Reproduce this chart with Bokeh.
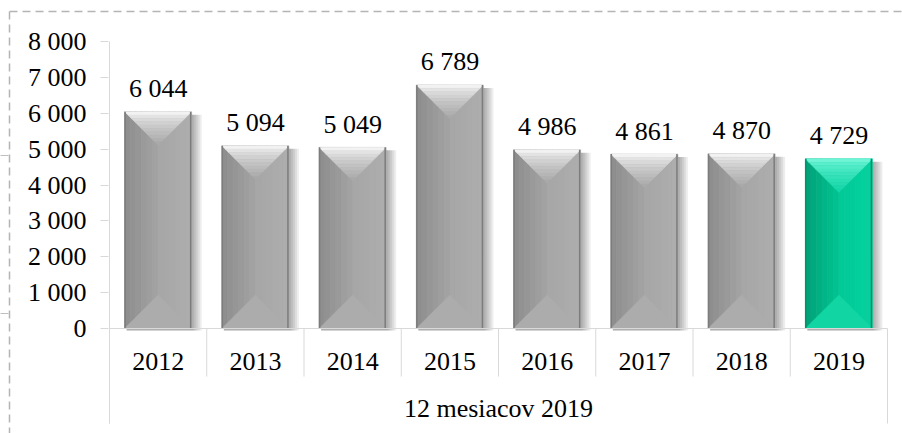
from bokeh.plotting import figure
from bokeh.models import Range1d, FixedTicker, CustomJSTickFormatter, ColumnDataSource
from bokeh.core.properties import value
from bokeh.embed import file_html
from bokeh.resources import INLINE

# ---- data ----
years = ["2012", "2013", "2014", "2015", "2016", "2017", "2018", "2019"]
counts = [6044, 5094, 5049, 6789, 4986, 4861, 4870, 4729]
highlight = [False, False, False, False, False, False, False, True]
group_label = "12 mesiacov 2019"
y_ticks = [0, 1000, 2000, 3000, 4000, 5000, 6000, 7000, 8000]

# ---- layout constants ----
W, H = 902, 433
FRAME_L, FRAME_T = 108, 20
PX_X = 97.25          # pixels per category
PX_Y = 0.035875       # pixels per unit
ZERO_FROM_TOP = 308   # frame px from top to value 0
x_start = -1.0 / PX_X
x_end = x_start + (W - FRAME_L) / PX_X
y_end = ZERO_FROM_TOP / PX_Y
y_start = y_end - (H - FRAME_T) / PX_Y

def dxp(px):
    return px / PX_X

def dyp(px):
    return px / PX_Y

FONT = "Liberation Serif"
FS = "26px"

p = figure(width=W, height=H, output_backend="svg", toolbar_location=None,
           x_range=Range1d(x_start, x_end), y_range=Range1d(y_start, y_end),
           x_axis_location=None, min_border_left=FRAME_L, min_border_top=FRAME_T,
           min_border_right=0, min_border_bottom=0)
p.outline_line_color = None
p.background_fill_color = "white"
p.border_fill_color = "white"
p.grid.visible = False

ax = p.yaxis[0]
ax.ticker = FixedTicker(ticks=y_ticks)
ax.bounds = (0, 8000)
ax.formatter = CustomJSTickFormatter(code="return tick.toString().replace(/\\B(?=(\\d{3})+(?!\\d))/g, ' ');")
ax.axis_line_color = None
ax.major_tick_line_color = "#d9d9d9"
ax.major_tick_out = 8
ax.major_tick_in = 0
ax.minor_tick_line_color = None
ax.major_label_standoff = 14
ax.major_label_text_font = FONT
ax.major_label_text_font_size = FS
ax.major_label_text_color = "#000000"

def hexmix(a, b, t):
    a = [int(a[i:i + 2], 16) for i in (1, 3, 5)]
    b = [int(b[i:i + 2], 16) for i in (1, 3, 5)]
    return "#" + "".join("%02x" % round(a[k] + (b[k] - a[k]) * t) for k in range(3))

GRAY = dict(l0="#8e8e8e", l1="#a2a2a2", r0="#a7a7a7", r1="#adadad",
            t0="#f2f2f2", t1="#aaaaaa", bot="#acacac", edge="#7c7c7c")
GREEN = dict(l0="#00a47a", l1="#00c18f", r0="#00cb98", r1="#04d19d",
             t0="#6ff5d6", t1="#14d6a8", bot="#12d5a4", edge="#00916a")

hw = 0.345
depth = hw * PX_X / PX_Y  # 45 degree bevel, in y units

# shadows
sh = dict(left=[], right=[], top=[], bottom=[])
for i, v in enumerate(counts):
    c = i + 0.5
    for k in (2, 4, 6, 8, 10):
        sh["left"].append(c - hw + dxp(2))
        sh["right"].append(c + hw + dxp(k))
        sh["top"].append(v - dyp(3))
        sh["bottom"].append(-dyp(2))
p.quad(left="left", right="right", top="top", bottom="bottom", source=ColumnDataSource(sh),
       fill_color="#000000", fill_alpha=0.07, line_color=None)

xs, ys, cols = [], [], []
n_strip = 6
n_band = 10
for i, v in enumerate(counts):
    c = i + 0.5
    pal = GREEN if highlight[i] else GRAY
    for k in range(n_strip):
        a = c - hw + hw * k / n_strip
        b = c - hw + hw * (k + 1) / n_strip
        xs.append([a, b, b, a]); ys.append([0, 0, v, v])
        cols.append(hexmix(pal["l0"], pal["l1"], k / (n_strip - 1)))
    for k in range(n_strip):
        a = c + hw * k / n_strip
        b = c + hw * (k + 1) / n_strip
        xs.append([a, b, b, a]); ys.append([0, 0, v, v])
        cols.append(hexmix(pal["r0"], pal["r1"], k / (n_strip - 1)))
    xs.append([c - hw, c + hw, c]); ys.append([0, 0, depth])
    cols.append(pal["bot"])
    for k in range(n_band):
        ya = v - depth * k / n_band
        yb = v - depth * (k + 1) / n_band
        wa = hw * (1 - k / n_band)
        wb = hw * (1 - (k + 1) / n_band)
        xs.append([c - wa, c + wa, c + wb, c - wb]); ys.append([ya, ya, yb, yb])
        cols.append(hexmix(pal["t0"], pal["t1"], (k / (n_band - 1)) ** 0.7))
p.patches(xs="xs", ys="ys", source=ColumnDataSource(dict(xs=xs, ys=ys, color=cols)),
          fill_color="color", line_color="color", line_width=0.5)

# bar edges
ex0, ey0, ex1, ey1, ec = [], [], [], [], []
for i, v in enumerate(counts):
    c = i + 0.5
    pal = GREEN if highlight[i] else GRAY
    for xx in (c - hw + dxp(0.5), c + hw - dxp(1)):
        ex0.append(xx); ex1.append(xx); ey0.append(0); ey1.append(v); ec.append(pal["edge"])
p.segment(x0="x0", y0="y0", x1="x1", y1="y1", color="c",
          source=ColumnDataSource(dict(x0=ex0, y0=ey0, x1=ex1, y1=ey1, c=ec)), line_width=1.5)

# axis lines and category separators
n = len(years)
AX = "#d9d9d9"
p.segment(x0=[0, 0], y0=[0, -dyp(95)], x1=[n, 0], y1=[0, 8000], color=AX, line_width=1)
sep_x = list(range(0, n + 1))
sep_y1 = [-dyp(95) if k in (0, n) else -dyp(48) for k in sep_x]
p.segment(x0=sep_x, y0=[0] * len(sep_x), x1=sep_x, y1=sep_y1, color=AX, line_width=1)

# value labels
p.text(x=[i + 0.5 for i in range(n)], y=counts,
       text=["{:,}".format(v).replace(",", " ") for v in counts],
       text_font=value(FONT), text_font_size=FS, text_align="center",
       text_baseline="alphabetic", y_offset=-23, text_color="#000000")
# category labels
p.text(x=[i + 0.5 for i in range(n)], y=[0] * n, text=years,
       text_font=value(FONT), text_font_size=FS, text_align="center",
       text_baseline="alphabetic", y_offset=33, text_color="#000000")
p.text(x=[n / 2], y=[0], text=[group_label],
       text_font=value(FONT), text_font_size=FS, text_align="center",
       text_baseline="alphabetic", y_offset=80, text_color="#000000")

# dashed chart-area border (top and left), and small marks outside the frame
bx_left = x_start + (9 - FRAME_L) / PX_X
bx_right = x_start + (W - FRAME_L) / PX_X
by_top = y_end + (FRAME_T - 11) / PX_Y
b = p.segment(x0=[bx_left, bx_left], y0=[by_top, by_top], x1=[bx_right, bx_left], y1=[by_top, y_start],
              color="#b4b4b4", line_width=1.5, line_dash="8 5")
b.level = "overlay"
mx0 = x_start + (0 - FRAME_L) / PX_X
mx1 = x_start + (8 - FRAME_L) / PX_X
my = [y_end - (155 - FRAME_T) / PX_Y, y_end - (313 - FRAME_T) / PX_Y]
m = p.segment(x0=[mx0, mx0], y0=my, x1=[mx1, mx1], y1=my, color="#bfbfbf", line_width=1)
m.level = "overlay"

open("out.html", "w").write(file_html(p, INLINE))
